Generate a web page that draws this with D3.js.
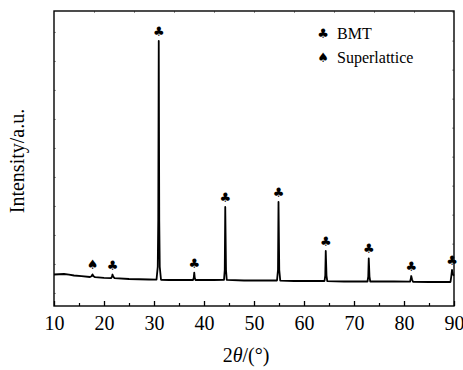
<!DOCTYPE html>
<html>
<head>
<meta charset="utf-8">
<script src="https://cdn.jsdelivr.net/npm/d3@7"></script>
<style>
  body { margin: 0; background: #fff; }
  .axis path { display: none; }
  .faint line { stroke: #999; }
</style>
</head>
<body>
<div id="xrd"></div>
<script>
// 2theta (deg) vs intensity (counts)
var pattern = [
  [10.0, 636], [11.0, 645], [12.0, 653], [13.0, 630], [14.0, 602], [15.5, 580],
  [17.2, 550], [17.5, 575], [17.7, 640], [17.9, 575], [18.2, 545],
  [20.0, 520], [21.4, 512], [21.6, 560], [21.7, 636], [21.85, 560], [22.1, 510],
  [25.0, 481], [29.0, 464], [30.5, 462], [30.75, 900], [30.85, 2500], [30.95, 8690],
  [31.05, 2500], [31.15, 900], [31.4, 455], [33.0, 446], [37.8, 446], [37.95, 520],
  [38.05, 698], [38.15, 520], [38.3, 446], [42.0, 446], [44.0, 450], [44.15, 800],
  [44.25, 2964], [44.4, 800], [44.55, 450], [48.0, 429], [52.0, 429], [54.6, 429],
  [54.8, 800], [54.9, 3136], [55.05, 800], [55.25, 425], [58.0, 412], [62.0, 412],
  [64.1, 412], [64.25, 600], [64.35, 1446], [64.5, 600], [64.65, 410], [68.0, 395],
  [72.7, 395], [72.85, 560], [72.95, 1195], [73.1, 560], [73.25, 395], [78.0, 395],
  [81.2, 390], [81.35, 480], [81.45, 584], [81.6, 470], [81.8, 385], [85.0, 378],
  [89.3, 378], [89.45, 560], [89.6, 791], [89.75, 640], [90.0, 600]
];

var bmtPeaks = [21.7, 30.95, 38.05, 44.25, 54.9, 64.35, 72.95, 81.45, 89.6];
var superPeaks = [17.7];
var legendItems = [["\u2663", "BMT"], ["\u2660", "Superlattice"]];
var xTicks = [10, 20, 30, 40, 50, 60, 70, 80, 90];
var xMinorTicks = [15, 25, 35, 45, 55, 65, 75, 85];
var topTicks = [18, 26, 34, 42, 50, 58, 66, 74, 82];
var yTicks = [0, 1000, 2000, 3000, 4000, 5000, 6000, 7000, 8000, 9000];

var serif = "'Liberation Serif', 'Times New Roman', Times, serif";
var symbolFont = "'DejaVu Sans', sans-serif";

var width = 463, height = 370,
  margins = {top: 11, left: 54, right: 9, bottom: 64};

var svg = d3.select("#xrd").append("svg")
  .attr("width", width)
  .attr("height", height)
  .style("font-family", serif);

var x = d3.scaleLinear().domain([10, 90]).range([margins.left, width - margins.right]);
var y = d3.scaleLinear().domain([-450, 9722]).range([height - margins.bottom, margins.top]);

function peakTop(pos) {
  var best = pattern[0];
  pattern.forEach(function (p) {
    if (Math.abs(p[0] - pos) < Math.abs(best[0] - pos)) best = p;
  });
  return best[1];
}

// bottom axis: major + minor ticks pointing in
svg.append("g")
  .attr("class", "axis")
  .attr("transform", "translate(0," + y.range()[0] + ")")
  .call(d3.axisBottom(x).tickValues(xTicks).tickSizeInner(-5).tickSizeOuter(0).tickPadding(10))
  .call(function (g) {
    g.attr("font-family", null).attr("font-size", null);
    g.selectAll("text").style("font-family", serif).attr("font-size", 20).attr("dy", "0.71em");
    g.selectAll("line").attr("stroke", "#000").attr("stroke-width", 1.3);
  });

svg.append("g")
  .attr("class", "axis")
  .attr("transform", "translate(0," + y.range()[0] + ")")
  .call(d3.axisBottom(x).tickValues(xMinorTicks).tickSizeInner(-3).tickSizeOuter(0).tickFormat(""))
  .call(function (g) { g.selectAll("line").attr("stroke", "#000").attr("stroke-width", 1.2); });

// faint ticks on top, left, right
svg.append("g")
  .attr("class", "axis faint")
  .attr("transform", "translate(0," + margins.top + ")")
  .call(d3.axisTop(x).tickValues(topTicks).tickSizeInner(-2).tickSizeOuter(0).tickFormat(""));

svg.append("g")
  .attr("class", "axis faint")
  .attr("transform", "translate(" + margins.left + ",0)")
  .call(d3.axisLeft(y).tickValues(yTicks).tickSizeInner(-2).tickSizeOuter(0).tickFormat(""));

svg.append("g")
  .attr("class", "axis faint")
  .attr("transform", "translate(" + (width - margins.right) + ",0)")
  .call(d3.axisRight(y).tickValues(yTicks.map(function (v) { return v + 700; })).tickSizeInner(-2).tickSizeOuter(0).tickFormat(""));

// the pattern
var line = d3.line()
  .x(function (d) { return x(d[0]); })
  .y(function (d) { return y(d[1]); });

svg.append("path")
  .datum(pattern)
  .attr("fill", "none")
  .attr("stroke", "#000")
  .attr("stroke-width", 1.8)
  .attr("stroke-linejoin", "round")
  .attr("d", line);

// frame
svg.append("rect")
  .attr("x", x.range()[0])
  .attr("y", margins.top)
  .attr("width", x.range()[1] - x.range()[0])
  .attr("height", y.range()[0] - margins.top)
  .attr("fill", "none")
  .attr("stroke", "#000")
  .attr("stroke-width", 1.4);

// peak markers
function addMarks(cls, data, glyph) {
  svg.selectAll("text." + cls)
    .data(data)
    .enter().append("text")
    .attr("class", cls)
    .style("font-family", symbolFont)
    .attr("font-size", 13)
    .attr("text-anchor", "middle")
    .attr("x", function (d) { return x(d); })
    .attr("y", function (d) { return y(peakTop(d)) - 5; })
    .text(glyph);
}
addMarks("bmt", bmtPeaks, "\u2663");
addMarks("sup", superPeaks, "\u2660");

// legend
var legend = svg.append("g").attr("transform", "translate(323,0)");
legendItems.forEach(function (item, i) {
  legend.append("text")
    .style("font-family", symbolFont)
    .attr("font-size", 13)
    .attr("text-anchor", "middle")
    .attr("x", 0)
    .attr("y", 37.5 + i * 24)
    .text(item[0]);
  legend.append("text")
    .attr("x", 14)
    .attr("y", 38.5 + i * 24)
    .attr("font-size", 16)
    .text(item[1]);
});

// axis titles
var xTitle = svg.append("text")
  .attr("x", 246)
  .attr("y", 362)
  .attr("text-anchor", "middle")
  .attr("font-size", 20);
xTitle.append("tspan").text("2");
xTitle.append("tspan").attr("font-style", "italic").text("\u03b8");
xTitle.append("tspan").text("/(\u00b0)");

svg.append("text")
  .attr("transform", "translate(24,161) rotate(-90)")
  .attr("text-anchor", "middle")
  .attr("font-size", 20)
  .text("Intensity/a.u.");
</script>
</body>
</html>
